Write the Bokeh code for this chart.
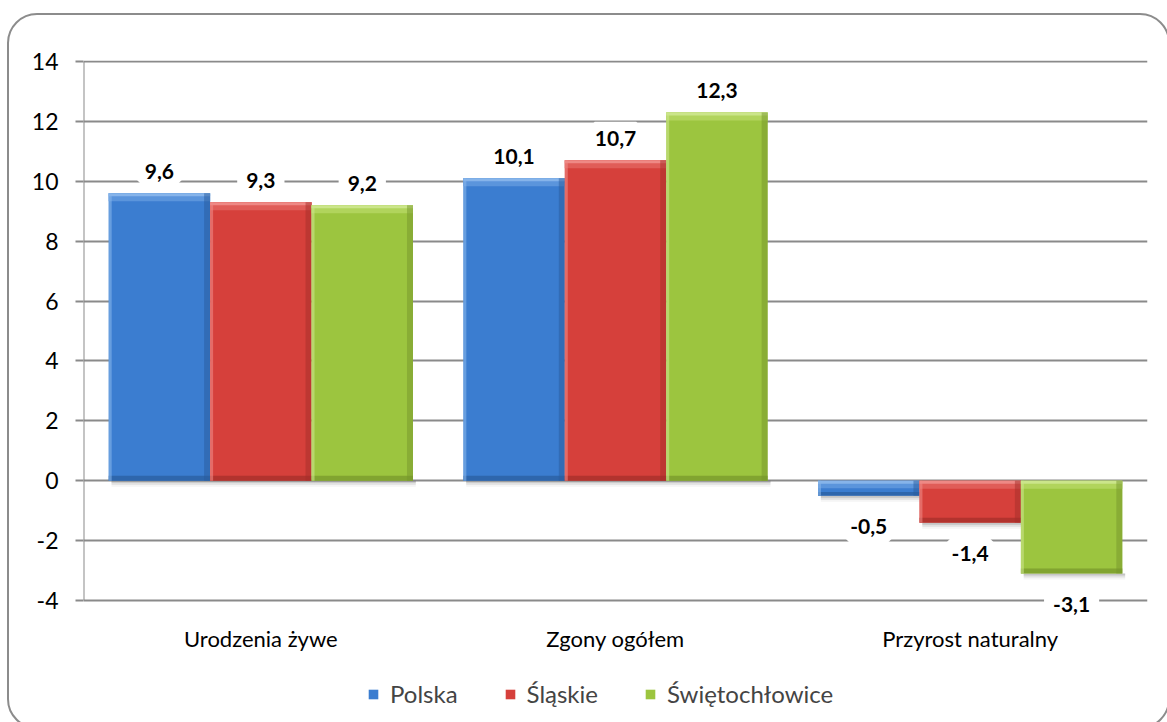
from bokeh.plotting import figure
from bokeh.models import (ColumnDataSource, FactorRange, Range1d, Legend, LegendItem,
                          FixedTicker, LabelSet, InlineStyleSheet)
from bokeh.transform import dodge
from bokeh.core.properties import value
from bokeh.embed import file_html
from bokeh.resources import INLINE

categories = ["Urodzenia żywe", "Zgony ogółem", "Przyrost naturalny"]
series = ["Polska", "Śląskie", "Świętochłowice"]
polska = [9.6, 10.1, -0.5]
slaskie = [9.3, 10.7, -1.4]
swietochlowice = [9.2, 12.3, -3.1]
y_ticks = [-4, -2, 0, 2, 4, 6, 8, 10, 12, 14]
y_tick_labels = ["-4", "-2", "0", "2", "4", "6", "8", "10", "12", "14"]

values_by_series = [polska, slaskie, swietochlowice]
main_colors = ["#3b7dd0", "#d6403b", "#9cc53f"]
mid_colors = ["#5b95dc", "#e05d58", "#b1d45c"]
light_colors = ["#86b4ea", "#ee8985", "#cbe58a"]
dark_colors = ["#2a5c9c", "#a32e2a", "#76962b"]

FONT = "Lato"
GRID = "#8a8a8a"
BAR_W = 0.286
offsets = [-BAR_W, 0.0, BAR_W]
PX_Y = 29.945                # pixels per unit
TOP_PAD, BOTTOM_PAD = 60, 0  # canvas borders
FRAME_H = 722 - TOP_PAD - BOTTOM_PAD
Y1 = y_ticks[-1] + 1 / PX_Y
Y0 = Y1 - FRAME_H / PX_Y

frame_css = InlineStyleSheet(css="""
:host { position: relative; }
:host::after {
  content: ''; position: absolute; left: 7px; top: 13px;
  width: 1163px; height: 716px; box-sizing: border-box;
  border: 2px solid #8c8c8c; border-radius: 30px;
  pointer-events: none; z-index: 10;
}
""")

p = figure(x_range=FactorRange(*categories), y_range=Range1d(Y0, Y1),
           width=1167, height=722, output_backend="svg",
           toolbar_location=None, min_border_left=83, min_border_right=20,
           min_border_top=TOP_PAD, min_border_bottom=BOTTOM_PAD)
p.stylesheets = [frame_css]
p.outline_line_color = None
p.background_fill_color = "white"
p.border_fill_color = "white"

# y axis (line drawn separately so it stops at the lowest tick)
p.yaxis.ticker = FixedTicker(ticks=y_ticks)
p.yaxis.major_label_overrides = dict(zip(y_ticks, y_tick_labels))
p.yaxis.axis_line_color = None
p.yaxis.major_tick_line_color = GRID
p.yaxis.major_tick_line_width = 2
p.yaxis.major_tick_out = 8
p.yaxis.major_tick_in = 0
p.yaxis.minor_tick_line_color = None
p.yaxis.major_label_text_font = FONT
p.yaxis.major_label_text_font_size = "23px"
p.yaxis.major_label_text_color = "black"
p.yaxis.major_label_standoff = 17
p.xaxis.visible = False

p.xgrid.grid_line_color = None
p.ygrid.ticker = FixedTicker(ticks=y_ticks)
p.ygrid.grid_line_color = GRID
p.ygrid.grid_line_width = 2

axis_src = ColumnDataSource(dict(cat=[categories[0]], y0=[y_ticks[0]], y1=[y_ticks[-1]]))
p.segment(x0=dodge("cat", -0.5, range=p.x_range), y0="y0",
          x1=dodge("cat", -0.5, range=p.x_range), y1="y1",
          source=axis_src, line_color=GRID, line_width=2)

legend_items = []
side_x = 6 / 354.7
for i, (name, vals) in enumerate(zip(series, values_by_series)):
    tops = [max(0, v) for v in vals]
    bottoms = [min(0, v) for v in vals]
    hgt = [t - b for t, b in zip(tops, bottoms)]
    src = ColumnDataSource(dict(
        cat=categories, top=tops, bottom=bottoms,
        bev1=[t - min(3 / PX_Y, h / 4) for t, h in zip(tops, hgt)],
        bev2=[t - min(8 / PX_Y, h / 2) for t, h in zip(tops, hgt)],
        dark_top=[b + min(5 / PX_Y, h / 4) for b, h in zip(bottoms, hgt)],
        sh1=[b - 2 / PX_Y for b in bottoms], sh2=[b - 4 / PX_Y for b in bottoms],
        sh3=[b - 6 / PX_Y for b in bottoms],
        label=[f"{v:.1f}".replace(".", ",") for v in vals],
        ly=[v for v in vals],
        yoff=[22 if v >= 0 else -31 for v in vals],
    ))
    x = dodge("cat", offsets[i], range=p.x_range)
    xs = dodge("cat", offsets[i] + 0.008, range=p.x_range)
    # soft shadow
    for sh, a in (("sh1", 0.20), ("sh2", 0.12), ("sh3", 0.06)):
        p.vbar(x=xs, top="bottom", bottom=sh, width=BAR_W, source=src,
               fill_color="#555555", fill_alpha=a, line_color=None)
    r = p.vbar(x=x, top="top", bottom="bottom", width=BAR_W, source=src,
               fill_color=main_colors[i], line_color=None)
    # top bevel (lighter, two steps)
    p.vbar(x=x, top="top", bottom="bev2", width=BAR_W, source=src,
           fill_color=mid_colors[i], line_color=None)
    p.vbar(x=x, top="top", bottom="bev1", width=BAR_W, source=src,
           fill_color=light_colors[i], line_color=None)
    # bottom bevel (darker)
    p.vbar(x=x, top="dark_top", bottom="bottom", width=BAR_W, source=src,
           fill_color=dark_colors[i], fill_alpha=0.7, line_color=None)
    # right side (darker)
    p.vbar(x=dodge("cat", offsets[i] + BAR_W / 2 - side_x / 2, range=p.x_range),
           top="top", bottom="bottom", width=side_x, source=src,
           fill_color=dark_colors[i], fill_alpha=0.5, line_color=None)
    # left side (lighter)
    p.vbar(x=dodge("cat", offsets[i] - BAR_W / 2 + side_x / 4, range=p.x_range),
           top="top", bottom="bottom", width=side_x / 2, source=src,
           fill_color=light_colors[i], fill_alpha=0.6, line_color=None)
    labels = LabelSet(x=x, y="ly", text="label", y_offset="yoff", source=src,
                      text_font=value(FONT), text_font_size=value("21px"),
                      text_font_style="bold",
                      text_color="black", text_align="center", text_baseline="middle",
                      background_fill_color="white", border_line_color="white",
                      border_line_width=18)
    p.add_layout(labels)
    legend_items.append(LegendItem(label=name, renderers=[r]))

# category labels (below the lowest gridline)
cat_src = ColumnDataSource(dict(cat=categories, y=[y_ticks[0]] * len(categories)))
p.text(x="cat", y="y", text="cat", source=cat_src, y_offset=38,
       text_font=value(FONT), text_font_size="22px", text_color="black",
       text_align="center", text_baseline="middle")

legend = Legend(items=legend_items, orientation="horizontal", location=(284, 14),
                label_text_font=FONT, label_text_font_size="24px",
                glyph_width=12, glyph_height=12, label_standoff=11, spacing=46,
                border_line_color=None, background_fill_alpha=0,
                margin=0, padding=6)
p.add_layout(legend)

open("out.html", "w").write(file_html(p, INLINE))
